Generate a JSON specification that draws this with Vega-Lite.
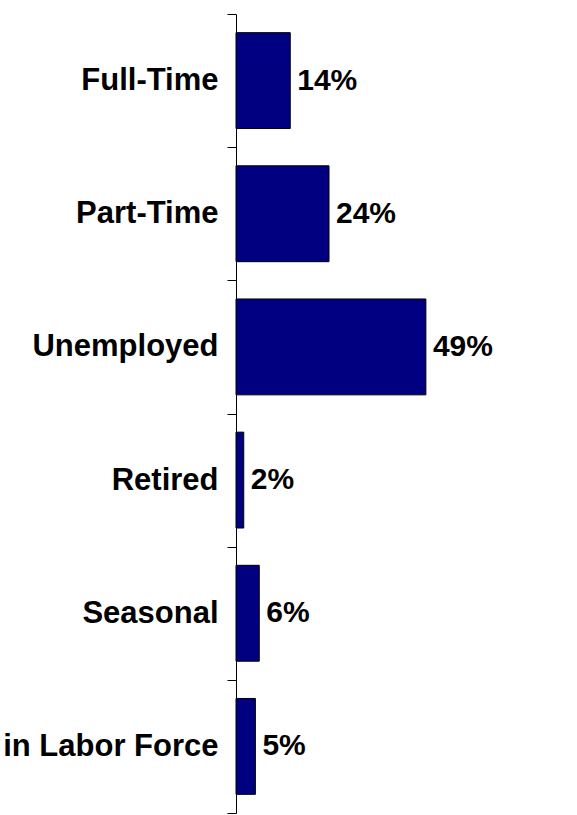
{
  "$schema": "https://vega.github.io/schema/vega-lite/v6.json",
  "autosize": "none",
  "padding": {"left": 236, "top": 14, "right": 0, "bottom": 2},
  "width": 341,
  "height": 799,
  "background": "white",
  "config": {"view": {"stroke": null}, "font": "Liberation Sans"},
  "data": {
    "values": [
      {"status": "Full-Time", "share": 0.14},
      {"status": "Part-Time", "share": 0.24},
      {"status": "Unemployed", "share": 0.49},
      {"status": "Retired", "share": 0.02},
      {"status": "Seasonal", "share": 0.06},
      {"status": "Not in Labor Force", "share": 0.05}
    ]
  },
  "encoding": {
    "y": {
      "field": "status",
      "type": "nominal",
      "sort": null,
      "scale": {"paddingInner": 0, "paddingOuter": 0},
      "axis": {
        "title": null,
        "domainColor": "black",
        "domainWidth": 1,
        "tickColor": "black",
        "tickWidth": 1,
        "tickSize": 9,
        "tickBand": "extent",
        "labelPadding": 9,
        "labelFont": "Liberation Sans",
        "labelFontSize": 31,
        "labelFontWeight": "bold",
        "labelColor": "black",
        "labelLimit": 0
      }
    },
    "x": {
      "field": "share",
      "type": "quantitative",
      "scale": {"domain": [0, 0.88], "nice": false, "zero": true},
      "axis": null
    }
  },
  "layer": [
    {
      "mark": {"type": "bar", "height": {"band": 0.72}, "fill": "#000080", "stroke": "black", "strokeWidth": 1},
      "encoding": {}
    },
    {
      "mark": {"type": "text", "align": "left", "baseline": "middle", "dx": 7, "fontSize": 30, "fontWeight": "bold", "font": "Liberation Sans", "color": "black"},
      "encoding": {
        "text": {"field": "share", "type": "quantitative", "format": ".0%"}
      }
    }
  ]
}
